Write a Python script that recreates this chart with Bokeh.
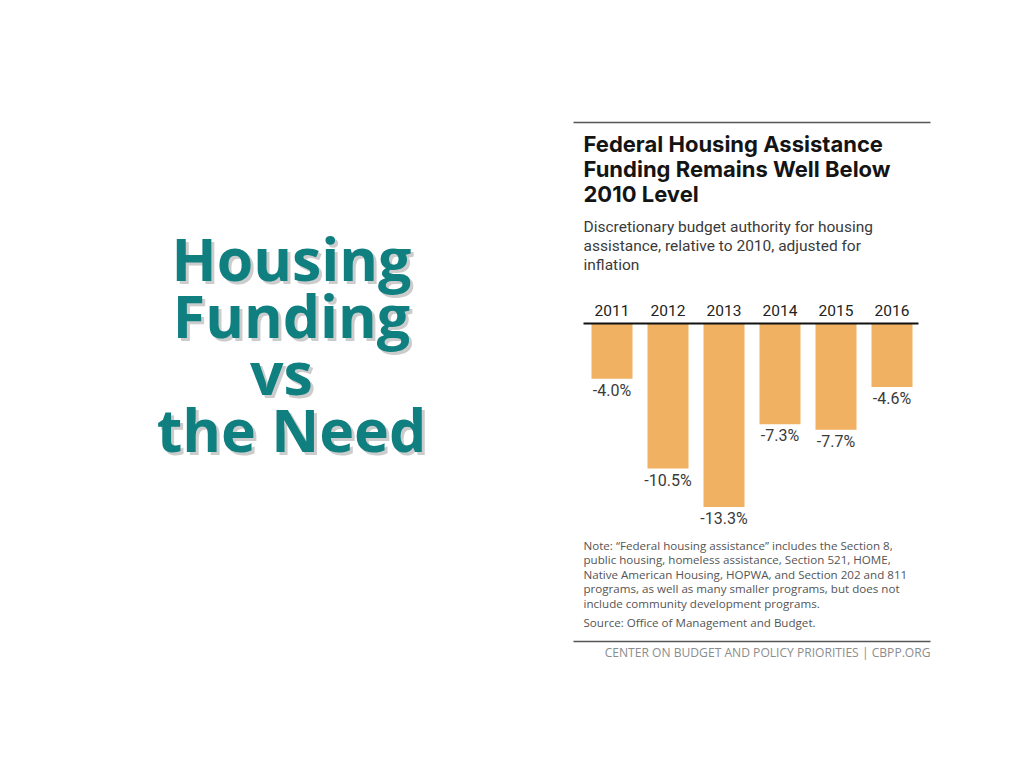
from bokeh.plotting import figure
from bokeh.models import Range1d, ColumnDataSource
from bokeh.core.properties import value
from bokeh.embed import file_html
from bokeh.resources import INLINE

# ---------------- data ----------------
years = [2011, 2012, 2013, 2014, 2015, 2016]
year_labels = ["2011", "2012", "2013", "2014", "2015", "2016"]
changes = [-4.0, -10.5, -13.3, -7.3, -7.7, -4.6]
change_labels = ["-4.0%", "-10.5%", "-13.3%", "-7.3%", "-7.7%", "-4.6%"]

slide_title_lines = ["Housing", "Funding", "vs", "the Need"]
chart_title_lines = ["Federal Housing Assistance",
                     "Funding Remains Well Below",
                     "2010 Level"]
subtitle_lines = ["Discretionary budget authority for housing",
                  "assistance, relative to 2010, adjusted for",
                  "inflation"]
note_lines = ["Note: \u201cFederal housing assistance\u201d includes the Section 8,",
              "public housing, homeless assistance, Section 521, HOME,",
              "Native American Housing, HOPWA, and Section 202 and 811",
              "programs, as well as many smaller programs, but does not",
              "include community development programs."]
source_text = "Source: Office of Management and Budget."
footer_text = "CENTER ON BUDGET AND POLICY PRIORITIES | CBPP.ORG"

# ---------------- layout (screen pixels) ----------------
W, H = 1008, 752
ZERO_Y = 323.0        # y of the zero line
PX_PER_PCT = 13.8     # pixels per percentage point
X_FIRST = 611.5       # x centre of first bar
STEP = 56.0           # pixels between bar centres
BAR_W = 41.0
BASE = 0.4            # baseline correction (fraction of font size)


def by(y, fs):
    """shift a wanted baseline position to compensate text placement"""
    return y - BASE * fs


p = figure(width=W, height=H, output_backend="svg", toolbar_location=None,
           x_range=Range1d(0, W), y_range=Range1d(H, 0),
           x_axis_type=None, y_axis_type=None, min_border=0)
p.outline_line_color = None
p.background_fill_color = "white"
p.border_fill_color = "white"
p.grid.visible = False

p.extra_x_ranges = {"yr": Range1d(start=years[0] - X_FIRST / STEP,
                                  end=years[0] + (W - X_FIRST) / STEP)}
p.extra_y_ranges = {"pct": Range1d(start=-(H - ZERO_Y) / PX_PER_PCT,
                                   end=ZERO_Y / PX_PER_PCT)}

src = ColumnDataSource(dict(year=years, change=changes,
                            ylab=year_labels, clab=change_labels))

# ---- left slide title with drop shadow ----
TEAL = "#0f7f80"
FS_T = 59
title_x = [291, 291, 281, 291]
title_y = [by(y, FS_T) for y in [281, 338, 395, 452]]
p.text(x=[x + 3 for x in title_x], y=[y + 3 for y in title_y], text=slide_title_lines,
       text_font=value("Open Sans"), text_font_style="bold", text_font_size=f"{FS_T}px",
       text_color="#cccccc", text_align="center", text_baseline="alphabetic")
p.text(x=title_x, y=title_y, text=slide_title_lines,
       text_font=value("Open Sans"), text_font_style="bold", text_font_size=f"{FS_T}px",
       text_color=TEAL, text_align="center", text_baseline="alphabetic")

# ---- rules ----
p.segment(x0=[573, 573], x1=[930, 930], y0=[122, 641], y1=[122, 641],
          line_color="#555555", line_width=1.5)

# ---- chart title and subtitle ----
FS_H = 22
p.text(x=583, y=[by(y, FS_H) for y in [152, 177, 202]], text=chart_title_lines,
       text_font=value("Inter"), text_font_style="bold", text_font_size=f"{FS_H}px",
       text_color="#141414", text_align="left", text_baseline="alphabetic")
FS_S = 15.5
p.text(x=583, y=[by(y, FS_S) for y in [233, 252, 271]], text=subtitle_lines,
       text_font=value("Roboto"), text_font_size=f"{FS_S}px",
       text_color="#3a3a3a", text_align="left", text_baseline="alphabetic")

# ---- bars ----
p.vbar(x="year", top=0, bottom="change", width=BAR_W / STEP, source=src,
       x_range_name="yr", y_range_name="pct",
       fill_color="#f0b163", line_color=None)

# zero line
p.segment(x0=[583], x1=[918], y0=[0], y1=[0], y_range_name="pct",
          line_color="#111111", line_width=2)

# year labels
FS_Y = 15.5
p.text(x="year", y=0, text="ylab", source=src, x_range_name="yr", y_range_name="pct",
       y_offset=-7 - BASE * FS_Y, text_font=value("Roboto"), text_font_size=f"{FS_Y}px",
       text_color="#222222", text_align="center", text_baseline="alphabetic")
# value labels
FS_V = 16
p.text(x="year", y="change", text="clab", source=src, x_range_name="yr", y_range_name="pct",
       y_offset=18 - BASE * FS_V, text_font=value("Roboto"), text_font_size=f"{FS_V}px",
       text_color="#3a3a3a", text_align="center", text_baseline="alphabetic")

# ---- note, source, footer ----
FS_N = 11.6
p.text(x=583, y=[by(y, FS_N) for y in [549.5, 564, 578.5, 593, 607.5]], text=note_lines,
       text_font=value("Open Sans"), text_font_size=f"{FS_N}px",
       text_color="#555555", text_align="left", text_baseline="alphabetic")
p.text(x=583, y=[by(627, FS_N)], text=[source_text],
       text_font=value("Open Sans"), text_font_size=f"{FS_N}px",
       text_color="#555555", text_align="left", text_baseline="alphabetic")
FS_F = 12.1
p.text(x=930, y=[by(657, FS_F)], text=[footer_text],
       text_font=value("Open Sans"), text_font_size=f"{FS_F}px",
       text_color="#8c8c8c", text_align="right", text_baseline="alphabetic")

open("out.html", "w").write(file_html(p, INLINE))
